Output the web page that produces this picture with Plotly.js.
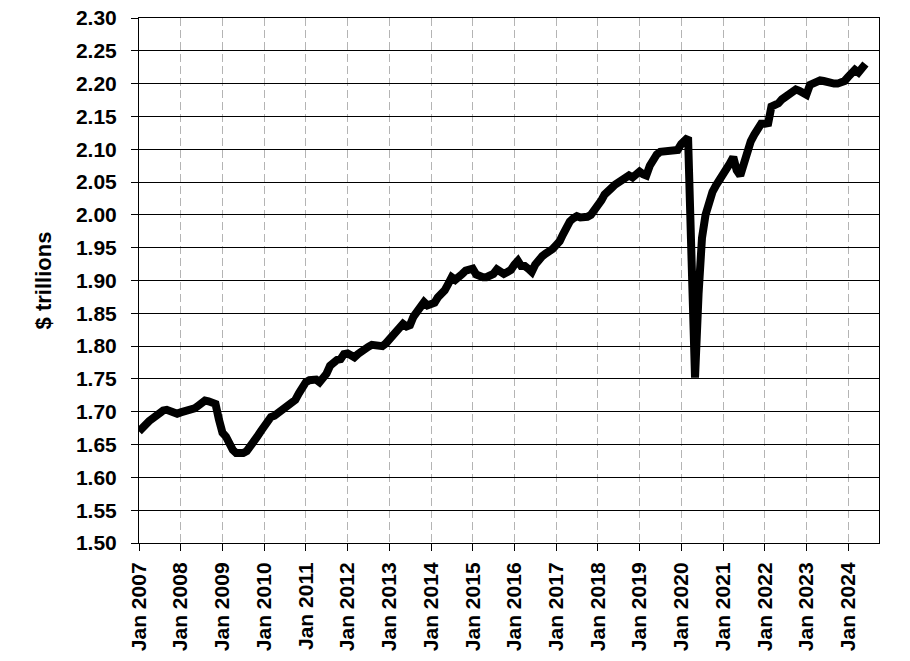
<!DOCTYPE html>
<html>
<head>
<meta charset="utf-8">
<script src="https://cdn.plot.ly/plotly-3.0.1.min.js"></script>
<style>html,body{margin:0;padding:0;background:#fff;}#chart{width:910px;height:661px;}</style>
</head>
<body>
<div id="chart"></div>
<script>
// Monthly values, $ trillions, starting Jan 2007
const startYear = 2007;
const v2007 = [1.670,1.677,1.682,1.686,1.690,1.695,1.700,1.702,1.703,1.701,1.699,1.697];
const v2008 = [1.699,1.700,1.701,1.703,1.705,1.709,1.713,1.717,1.716,1.715,1.712,1.688];
const v2009 = [1.668,1.662,1.650,1.642,1.637,1.636,1.637,1.640,1.646,1.655,1.662,1.670];
const v2010 = [1.677,1.686,1.692,1.694,1.698,1.703,1.707,1.710,1.714,1.718,1.728,1.740];
const v2011 = [1.745,1.748,1.750,1.749,1.745,1.750,1.758,1.770,1.777,1.779,1.780,1.788];
const v2012 = [1.789,1.785,1.783,1.788,1.793,1.797,1.799,1.802,1.801,1.800,1.800,1.804];
const v2013 = [1.811,1.818,1.823,1.828,1.834,1.830,1.832,1.845,1.852,1.860,1.867,1.862];
const v2014 = [1.864,1.866,1.874,1.878,1.885,1.895,1.905,1.901,1.904,1.910,1.915,1.917];
const v2015 = [1.918,1.909,1.906,1.905,1.905,1.906,1.910,1.917,1.912,1.910,1.913,1.916];
const v2016 = [1.924,1.930,1.922,1.922,1.918,1.913,1.924,1.933,1.937,1.941,1.944,1.948];
const v2017 = [1.954,1.960,1.970,1.981,1.990,1.995,1.998,1.996,1.995,1.997,2.000,2.006];
const v2018 = [2.014,2.022,2.031,2.038,2.041,2.046,2.050,2.053,2.058,2.060,2.057,2.061];
const v2019 = [2.066,2.062,2.060,2.075,2.086,2.092,2.096,2.097,2.097,2.099,2.100,2.099];
const v2020 = [2.108,2.112,2.118,1.930,1.752,1.880,1.965,2.000,2.020,2.035,2.045,2.053];
const v2021 = [2.060,2.066,2.078,2.088,2.068,2.060,2.079,2.100,2.112,2.122,2.134,2.139];
const v2022 = [2.139,2.140,2.165,2.167,2.170,2.176,2.180,2.183,2.187,2.191,2.189,2.186];
const v2023 = [2.183,2.198,2.200,2.204,2.205,2.204,2.202,2.201,2.200,2.200,2.201,2.204];
const v2024 = [2.210,2.218,2.221,2.217,2.226,2.230];

const yTickVals = [1.50,1.55,1.60,1.65,1.70,1.75,1.80,1.85,1.90,1.95,2.00,2.05,2.10,2.15,2.20,2.25,2.30];
const yTitle = '$ trillions';

const yearly = [v2007,v2008,v2009,v2010,v2011,v2012,v2013,v2014,v2015,v2016,v2017,v2018,v2019,v2020,v2021,v2022,v2023,v2024];
const dates = [], values = [];
yearly.forEach((arr, i) => {
  arr.forEach((v, m) => {
    dates.push((startYear + i) + '-' + String(m + 1).padStart(2, '0') + '-01');
    values.push(v);
  });
});

const font = {family: 'Liberation Sans, Arial, sans-serif', size: 21, color: '#000', weight: 'bold'};
const titleFont = {family: 'Liberation Sans, Arial, sans-serif', size: 22, color: '#000', weight: 'bold'};

const trace = {
  x: dates, y: values, type: 'scatter', mode: 'lines',
  line: {color: '#000', width: 8, shape: 'linear'},
  hoverinfo: 'skip'
};

const layout = {
  width: 910, height: 661,
  margin: {l: 139, r: 31, t: 18, b: 118},
  paper_bgcolor: '#fff', plot_bgcolor: '#fff',
  showlegend: false,
  xaxis: {
    type: 'date',
    range: ['2007-01-01', '2024-09-28'],
    tick0: '2007-01-01', dtick: 'M12', tickformat: '%b %Y',
    tickangle: -90, tickfont: font, ticklabelstandoff: 3,
    ticks: 'outside', ticklen: 7, tickcolor: '#000', tickwidth: 1,
    showgrid: true, gridcolor: '#b4b4b4', gridwidth: 1, griddash: '8px,4px',
    showline: true, linecolor: '#000', linewidth: 1, mirror: true,
    zeroline: false
  },
  yaxis: {
    range: [1.5, 2.3],
    tickvals: yTickVals, tickformat: '.2f', tickfont: font, ticklabelstandoff: 10,
    ticks: 'outside', ticklen: 7, tickcolor: '#000', tickwidth: 1,
    showgrid: true, gridcolor: '#000', gridwidth: 1,
    showline: true, linecolor: '#000', linewidth: 1, mirror: true,
    zeroline: false,
    title: {text: yTitle, font: titleFont, standoff: 18}
  }
};

Plotly.newPlot('chart', [trace], layout, {displayModeBar: false, staticPlot: true});
</script>
</body>
</html>
